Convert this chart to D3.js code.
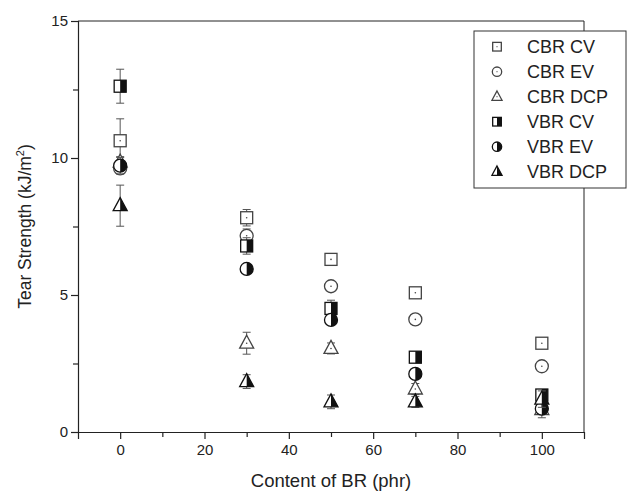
<!DOCTYPE html>
<html><head><meta charset="utf-8">
<script src="https://cdn.jsdelivr.net/npm/d3@7"></script>
<style>body{margin:0;background:#fff}svg{display:block}text{font-family:"Liberation Sans",Arial,sans-serif;fill:#222}</style>
</head><body><svg id="c" width="633" height="496"></svg>
<script>
const content = [0, 30, 50, 70, 100];
const seriesNames = ["CBR CV","CBR EV","CBR DCP","VBR CV","VBR EV","VBR DCP"];
const cbrCV  = [10.63, 7.82, 6.30, 5.08, 3.24];
const cbrEV  = [9.62, 7.16, 5.32, 4.11, 2.40];
const cbrDCP = [9.85, 3.24, 3.05, 1.57, 0.82];
const vbrCV  = [12.62, 6.79, 4.51, 2.73, 1.35];
const vbrEV  = [9.72, 5.95, 4.09, 2.12, 0.85];
const vbrDCP = [8.26, 1.84, 1.10, 1.10, 1.20];
const errCbrCV  = [0.80, 0.30, 0.15, 0.15, 0.15];
const errCbrEV  = [0.20, 0.25, 0.15, 0.10, 0.15];
const errCbrDCP = [0.20, 0.40, 0.20, 0.20, 0.30];
const errVbrCV  = [0.62, 0.30, 0.30, 0.15, 0.20];
const errVbrEV  = [0.30, 0.15, 0.15, 0.15, 0.20];
const errVbrDCP = [0.75, 0.25, 0.25, 0.20, 0.30];
const xTicks = [0, 20, 40, 60, 80, 100];
const yTicks = [0, 5, 10, 15];

const values = [cbrCV, cbrEV, cbrDCP, vbrCV, vbrEV, vbrDCP];
const errs = [errCbrCV, errCbrEV, errCbrDCP, errVbrCV, errVbrEV, errVbrDCP];
const shapes = ["square","circle","triangle","square","circle","triangle"];
const half = [false,false,false,true,true,true];

const svg = d3.select("#c");
const L = 78, R = 584, T = 21, B = 432;
const x = d3.scaleLinear().domain([-10, 110]).range([L, R]);
const y = d3.scaleLinear().domain([0, 15]).range([B, T]);

// frame
svg.append("line").attr("x1",L).attr("x2",R).attr("y1",T).attr("y2",T).attr("stroke","#222");
svg.append("line").attr("x1",R).attr("x2",R).attr("y1",T).attr("y2",B).attr("stroke","#222");

svg.append("g").attr("transform",`translate(0,${B})`)
  .call(d3.axisBottom(x).tickValues(xTicks).tickSize(7).tickPadding(5).tickFormat(d3.format("d")));
svg.append("g").attr("transform",`translate(0,${B})`)
  .call(d3.axisBottom(x).tickValues(d3.range(10,101,20)).tickSize(5).tickFormat(""))
  .select(".domain").remove();
svg.append("g").attr("transform",`translate(${L},0)`)
  .call(d3.axisLeft(y).tickValues(yTicks).tickSize(7).tickPadding(3).tickFormat(d3.format("d")));
svg.append("g").attr("transform",`translate(${L},0)`)
  .call(d3.axisLeft(y).tickValues([2.5,7.5,12.5]).tickSize(5).tickFormat(""))
  .select(".domain").remove();
svg.selectAll(".domain").attr("stroke","#222").attr("stroke-width",1.2);
svg.selectAll(".tick line").attr("stroke","#222").attr("stroke-width",1.2);
svg.selectAll(".tick text").style("font-size","15px").attr("fill","#222").style("font-family","Liberation Sans, Arial, sans-serif");

svg.append("text").attr("x",(L+R)/2).attr("y",487).attr("text-anchor","middle")
  .style("font-size","18.5px").text("Content of BR (phr)");
const yt = svg.append("text").attr("transform",`translate(31,${(T+B)/2}) rotate(-90)`).attr("text-anchor","middle")
  .style("font-size","17.5px");
yt.append("tspan").text("Tear Strength (kJ/m");
yt.append("tspan").attr("dy",-7).style("font-size","11px").text("2");
yt.append("tspan").attr("dy",7).text(")");

function drawMarker(g, shape, isHalf, s, col){
  const k = s;
  if(shape==="square"){
    g.append("rect").attr("x",-6*k).attr("y",-6*k).attr("width",12*k).attr("height",12*k)
      .attr("fill","#fff").attr("stroke",col).attr("stroke-width",1.3);
    if(isHalf) g.append("rect").attr("x",0).attr("y",-6*k).attr("width",6*k).attr("height",12*k).attr("fill",col);
  } else if(shape==="circle"){
    g.append("circle").attr("r",6.5*k).attr("fill","#fff").attr("stroke",col).attr("stroke-width",1.3);
    if(isHalf) g.append("path").attr("d",d3.arc()({innerRadius:0,outerRadius:6.5*k,startAngle:0,endAngle:Math.PI})).attr("fill",col);
  } else {
    g.append("path").attr("d",`M0,${-8*k}L${7*k},${5*k}L${-7*k},${5*k}Z`)
      .attr("fill","#fff").attr("stroke",col).attr("stroke-width",1.3).attr("stroke-linejoin","miter");
    if(isHalf) g.append("path").attr("d",`M0,${-8*k}L${7*k},${5*k}L0,${5*k}Z`).attr("fill",col);
  }
  if(!isHalf) g.append("circle").attr("r",0.8*k).attr("fill",col);
}

values.forEach((vals, si) => {
  const col = half[si] ? "#111" : "#444";
  const g = svg.append("g");
  vals.forEach((v, i) => {
    const cx = x(content[i]), e = errs[si][i];
    const eg = g.append("g").attr("stroke","#555").attr("stroke-width",1);
    eg.append("line").attr("x1",cx).attr("x2",cx).attr("y1",y(v+e)).attr("y2",y(v-e));
    eg.append("line").attr("x1",cx-4).attr("x2",cx+4).attr("y1",y(v+e)).attr("y2",y(v+e));
    eg.append("line").attr("x1",cx-4).attr("x2",cx+4).attr("y1",y(v-e)).attr("y2",y(v-e));
  });
  vals.forEach((v, i) => {
    const mg = g.append("g").attr("transform",`translate(${x(content[i])},${y(v)})`);
    drawMarker(mg, shapes[si], half[si], 1, col);
  });
});

// legend
const lg = svg.append("g");
lg.append("rect").attr("x",474).attr("y",31).attr("width",152).attr("height",157)
  .attr("fill","#fff").attr("stroke","#333").attr("stroke-width",1);
seriesNames.forEach((n, i) => {
  const yy = 46.7 + i*25;
  const mg = lg.append("g").attr("transform",`translate(497,${yy})`);
  drawMarker(mg, shapes[i], half[i], 0.72, half[i] ? "#111" : "#444");
  lg.append("text").attr("x",527).attr("y",yy+6.5).style("font-size","18px").text(n);
});
</script></body></html>
